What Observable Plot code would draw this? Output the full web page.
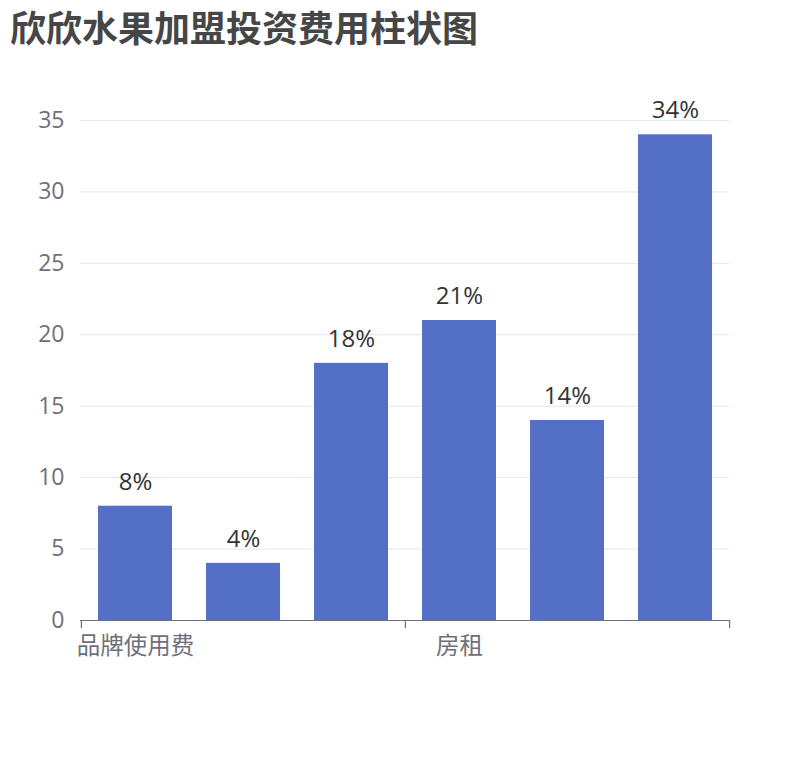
<!DOCTYPE html>
<html><head><meta charset="utf-8">
<script src="https://cdn.jsdelivr.net/npm/d3@7"></script>
<script src="https://cdn.jsdelivr.net/npm/@observablehq/plot@0.6"></script>
<style>
body{margin:0;background:#fff;font-family:"Noto Sans CJK SC","Noto Sans",sans-serif;}
#title{height:60px;line-height:52px;font-size:36px;font-weight:bold;color:#464646;padding-left:10px;}
#chart svg{display:block;}
</style></head>
<body>
<div id="title">欣欣水果加盟投资费用柱状图</div>
<div id="chart"></div>
<script>
const categories = ["品牌使用费","加盟费","装修费","房租","设备费","首批进货费"];
const values = [8,4,18,21,14,34];
const yTicks = [0,5,10,15,20,25,30,35];
const shownLabels = [categories[0], categories[3]];

const data = categories.map((c,i)=>({cat:c, val:values[i]}));
const W = 810, H = 700, mL = 80, mR = 81, mT = 60, mB = 140;
const halfStep = (W - mL - mR) / categories.length / 2;
const tickLen = 8 * 35 / (H - mT - mB);
const font = '"Open Sans","Noto Sans CJK SC",sans-serif';

const chart = Plot.plot({
  width: W, height: H,
  marginLeft: mL, marginRight: mR, marginTop: mT, marginBottom: mB,
  style: {fontFamily: font, background: "#fff"},
  x: {domain: categories, paddingInner: 0.316, paddingOuter: 0.158},
  y: {domain: [0, 35]},
  marks: [
    Plot.ruleY(yTicks.filter(d=>d>0), {stroke: "#e0e6f1", strokeWidth: 1}),
    Plot.barY(data, {x: "cat", y: "val", fill: "#5470c6"}),
    Plot.text(data, {x: "cat", y: "val", text: d => d.val + "%", dy: -24, fontSize: 24, fill: "#333"}),
    Plot.ruleY([0], {stroke: "#6e7079", strokeWidth: 1.2}),
    Plot.ruleX([categories[0], categories[3]], {x: d=>d, y1: 0, y2: -tickLen, dx: -halfStep, stroke: "#6e7079", strokeWidth: 1.2}),
    Plot.ruleX([categories[categories.length-1]], {x: d=>d, y1: 0, y2: -tickLen, dx: halfStep, stroke: "#6e7079", strokeWidth: 1.2}),
    Plot.axisY({ticks: yTicks, tickSize: 0, tickPadding: 16, fontSize: 23, fill: "#6e7079", label: null}),
    Plot.axisX({ticks: shownLabels, tickSize: 0, tickPadding: 17, fontSize: 23.5, fill: "#6e7079", label: null})
  ]
});
document.getElementById("chart").appendChild(chart);
</script>
</body></html>
